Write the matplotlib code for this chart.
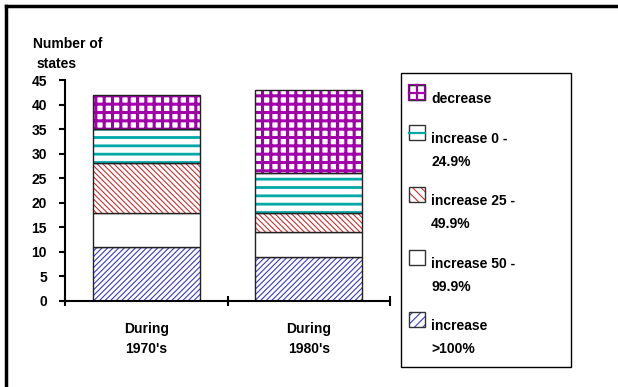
"""Stacked bars: number of states by population change, 1970's vs 1980's."""

import matplotlib

matplotlib.use("Agg")
import matplotlib.pyplot as plt
from matplotlib.lines import Line2D
from matplotlib.patches import Rectangle

categories = ["During\n1970's", "During\n1980's"]
series_labels = [
    "increase\n>100%",
    "increase 50 -\n99.9%",
    "increase 25 -\n49.9%",
    "increase 0 -\n24.9%",
    "decrease",
]
over_100 = [11, 9]
inc_50 = [7, 5]
inc_25 = [10, 4]
inc_0 = [7, 8]
decrease = [7, 17]
series = [over_100, inc_50, inc_25, inc_0, decrease]

# hatch styling per series: (bar hatch, swatch hatch, hatch colour, hatch linewidth)
styles = [
    ("//////", "////", "#3a3acc", 0.8),
    ("", "", "#000000", 0.8),
    ("\\\\\\\\\\\\", "\\\\\\\\", "#cc3030", 0.8),
    ("--", "h", "#00a8a8", 2.0),
    ("++", "hv", "#a000a8", 2.2),
]

plt.rcParams["font.family"] = ["Liberation Sans", "DejaVu Sans"]
plt.rcParams["font.weight"] = "bold"

fig = plt.figure(figsize=(6.18, 3.87), dpi=100)
ax = fig.add_axes([65 / 618, 1 - 301 / 387, 325 / 618, 221 / 387])

x = [0, 1]
width = 0.66
bottom = [0, 0]
for vals, (hatch, _, hcol, hlw) in zip(series, styles):
    plt.rcParams["hatch.linewidth"] = hlw
    ax.bar(x, vals, width=width, bottom=bottom, color="white",
           hatch=hatch, edgecolor=hcol, linewidth=0)
    ax.bar(x, vals, width=width, bottom=bottom, fill=False,
           edgecolor="#222222", linewidth=1.0)
    bottom = [b + v for b, v in zip(bottom, vals)]

ax.set_xlim(-0.5, 1.5)
ax.set_ylim(0, 45)
ax.set_yticks(range(0, 46, 5))
ax.set_xticks(x)
ax.set_xticklabels(categories, fontsize=10, fontweight="bold", linespacing=1.55)
ax.set_xticks([-0.5, 0.5, 1.5], minor=True)
ax.tick_params(axis="x", which="major", length=0, pad=15)
ax.tick_params(axis="x", which="minor", direction="inout", length=7, width=1.5)
ax.tick_params(axis="y", direction="out", length=4, width=1.5, labelsize=10, pad=9)
for lab in ax.get_yticklabels():
    lab.set_fontweight("bold")
for side in ["top", "right"]:
    ax.spines[side].set_visible(False)
for side in ["left", "bottom"]:
    ax.spines[side].set_linewidth(1.5)

fig.text(33 / 618, 1 - 44 / 387, "Number of", fontsize=10, va="center")
fig.text(37 / 618, 1 - 64 / 387, "states", fontsize=10, va="center")

# outer frame: top and left lines only
fig.add_artist(Line2D([6 / 618, 1], [1 - 6 / 387] * 2, color="black", lw=2.5,
                      transform=fig.transFigure))
fig.add_artist(Line2D([6 / 618] * 2, [0, 1 - 6 / 387], color="black", lw=2.5,
                      transform=fig.transFigure))


def px(xp, yp):
    """Pixel position (from top-left) to figure fraction."""
    return xp / 618, 1 - yp / 387


# legend box drawn by hand so the swatches sit at the first text line
fig.add_artist(Rectangle(px(401, 367), 170 / 618, 294 / 387,
                         transform=fig.transFigure, fill=False,
                         edgecolor="black", lw=1.0))
legend_order = [4, 3, 2, 1, 0]
swatch_tops = [85, 125, 187, 250, 312]
for k, top in zip(legend_order, swatch_tops):
    _, shatch, hcol, hlw = styles[k]
    x0, x1, y0, y1 = 409, 425, top, top + 15
    if shatch in ("h", "hv"):
        fig.add_artist(Rectangle(px(x0, y1), 16 / 618, 15 / 387,
                                 transform=fig.transFigure, color="white", lw=0))
        xm, ym = (x0 + x1) / 2, (y0 + y1) / 2
        fig.add_artist(Line2D([x0 / 618, x1 / 618], [px(0, ym)[1]] * 2, color=hcol,
                              lw=1.6, transform=fig.transFigure))
        if shatch == "hv":
            fig.add_artist(Line2D([xm / 618] * 2, [px(0, y0)[1], px(0, y1)[1]],
                                  color=hcol, lw=1.6, transform=fig.transFigure))
            fig.add_artist(Rectangle(px(x0, y1), 16 / 618, 15 / 387,
                                     transform=fig.transFigure, fill=False,
                                     edgecolor=hcol, lw=1.6))
    else:
        plt.rcParams["hatch.linewidth"] = hlw
        fig.add_artist(Rectangle(px(x0, y1), 16 / 618, 15 / 387,
                                 transform=fig.transFigure, facecolor="white",
                                 hatch=shatch, edgecolor=hcol, lw=0))
    fig.add_artist(Rectangle(px(x0, y1), 16 / 618, 15 / 387, transform=fig.transFigure,
                             fill=False, edgecolor="#333333", lw=1.0))
    fig.text(431 / 618, px(0, top + 7)[1], series_labels[k],
             fontsize=10, va="top", linespacing=1.8)

fig.savefig("out.png", dpi=100)
